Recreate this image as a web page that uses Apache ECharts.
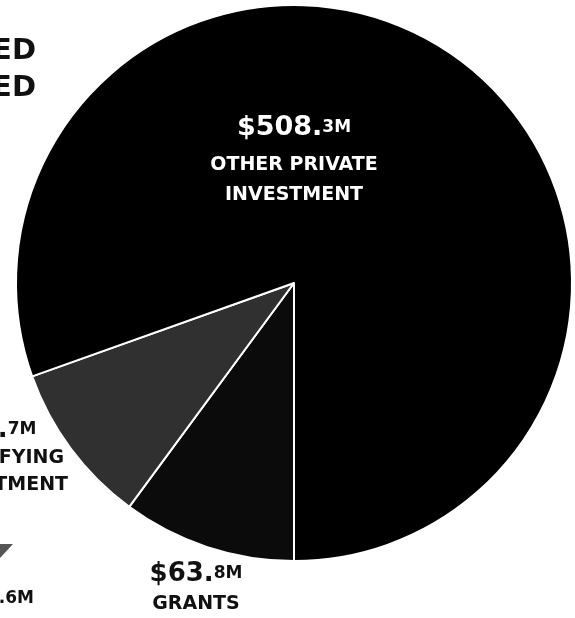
<!DOCTYPE html>
<html>
<head>
<meta charset="utf-8">
<script src="https://cdn.jsdelivr.net/npm/echarts@6/dist/echarts.min.js"></script>
<style>
html,body{margin:0;padding:0;background:#fff;}
#chart{width:575px;height:618px;}
</style>
</head>
<body>
<div id="chart"></div>
<script>
// Data (clockwise from 6 o'clock)
const categories = ['GRANTS', 'QUALIFYING\nINVESTMENT', 'OTHER PRIVATE\nINVESTMENT'];
const values = [63.8, 59.7, 508.3];
const sliceColors = ['#0b0b0b', '#303030', '#000000'];
const labelColors = ['#111111', '#111111', '#ffffff'];
// Cropped text fragments visible at the picture's edges
const titleFragments = ['ED', 'ED'];
const cutLabelFragment = '.6M';

const FONT = '"DejaVu Sans", sans-serif';
const labelSpots = [
  {x: 196, y: 559},   // grants
  {x: -1, y: 415},    // qualifying (cut by left edge)
  {x: 294, y: 106}    // other private
];
const valuePad = [0, 18, 0];

function valueText(v, pad) {
  const parts = v.toFixed(1).split('.');
  let s = '{big|$' + parts[0] + '.}{small|' + parts[1] + 'M}';
  if (pad) s += '{pad|}';
  return s;
}

const chart = echarts.init(document.getElementById('chart'), null, {renderer: 'canvas'});

const data = values.map((v, i) => {
  const names = categories[i].split('\n').map(s => '{name|' + s + '}').join('\n');
  const big = i === 2 ? 44 : 30;
  const nameLH = i === 1 ? 27 : 30;
  return {
    name: categories[i],
    value: v,
    itemStyle: {color: sliceColors[i]},
    label: {
      show: true,
      formatter: valueText(v, valuePad[i]) + '\n' + names,
      color: labelColors[i],
      fontFamily: FONT,
      align: 'center',
      rich: {
        big: {fontSize: i === 2 ? 27 : 26, fontWeight: 'bold', color: labelColors[i], fontFamily: FONT, lineHeight: big},
        small: {fontSize: 17, fontWeight: 'bold', color: labelColors[i], fontFamily: FONT, lineHeight: big},
        pad: {width: valuePad[i], lineHeight: big},
        name: {fontSize: 19, fontWeight: 'bold', color: labelColors[i], fontFamily: FONT, lineHeight: nameLH}
      }
    }
  };
});

chart.setOption({
  backgroundColor: '#ffffff',
  animation: false,
  series: [{
    type: 'pie',
    center: [294, 283],
    radius: [0, 278],
    startAngle: -90,
    clockwise: true,
    avoidLabelOverlap: false,
    itemStyle: {borderColor: '#ffffff', borderWidth: 2},
    label: {show: true, position: 'inside'},
    labelLine: {show: false},
    emphasis: {disabled: true},
    labelLayout: function (params) {
      const s = labelSpots[params.dataIndex];
      return {x: s.x, y: s.y, align: 'center', verticalAlign: 'top'};
    },
    data: data
  }],
  graphic: [
    {type: 'text', x: 36, y: 37, style: {text: titleFragments[0], align: 'right', verticalAlign: 'top', fontFamily: FONT, fontWeight: 'bold', fontSize: 29, fill: '#111'}},
    {type: 'text', x: 36, y: 74, style: {text: titleFragments[1], align: 'right', verticalAlign: 'top', fontFamily: FONT, fontWeight: 'bold', fontSize: 29, fill: '#111'}},
    {type: 'polygon', shape: {points: [[-13, 544], [13, 544], [0, 558]]}, style: {fill: '#555555'}},
    {type: 'text', x: 34, y: 590, style: {text: cutLabelFragment, align: 'right', verticalAlign: 'top', fontFamily: FONT, fontWeight: 'bold', fontSize: 17, fill: '#111'}}
  ]
});
</script>
</body>
</html>
